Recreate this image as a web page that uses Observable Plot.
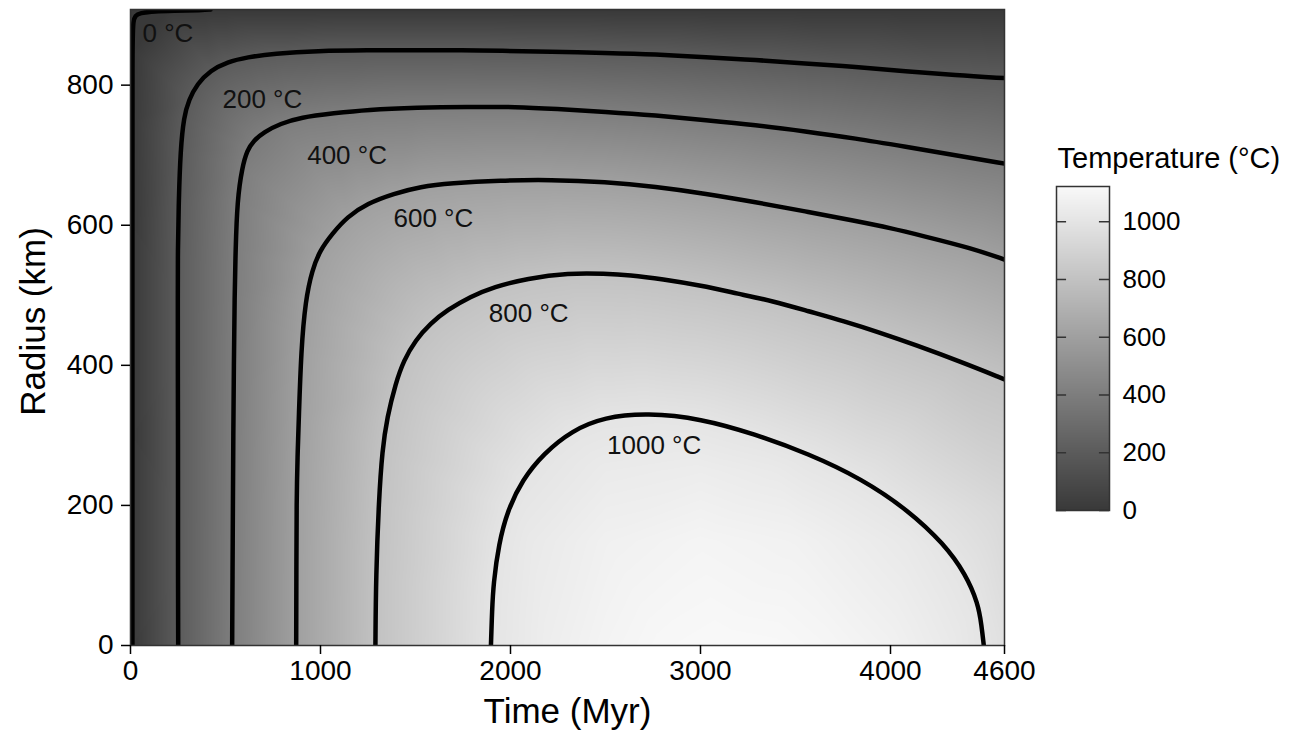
<!DOCTYPE html>
<html>
<head>
<meta charset="utf-8">
<script src="https://cdn.jsdelivr.net/npm/d3@7"></script>
<script src="https://cdn.jsdelivr.net/npm/@observablehq/plot@0.6"></script>
<style>
html, body { margin: 0; padding: 0; background: #fff; }
#wrap { position: relative; width: 1302px; height: 733px; overflow: hidden; }
#main { position: absolute; left: 0; top: 0; }
#legend { position: absolute; left: 1020px; top: 0; }
</style>
</head>
<body>
<div id="wrap"><div id="main"></div><div id="legend"></div></div>
<script>
// ---- tick labels ----
const xTicks = [0, 1000, 2000, 3000, 4000, 4600];
const yTicks = [0, 200, 400, 600, 800];
const colorTicks = [0, 200, 400, 600, 800, 1000];
const legendTitle = "Temperature (°C)";

// ---- isotherms: [time (Myr), radius (km)] ----
const iso0 = [[10,0],[10,300],[10,600],[10,850],[12,895],[35,904],[193,906],[384,907],[421,908]];
const iso200 = [[251,0],[250,100],[250,200],[250,300],[249,400],[249,500],[249,564],[254,636],[263,707],[281,755],[307,779],[351,802],[421,821],[509,833],[614,840],[754,845],[983,849],[1246,850],[1500,850],[1750,850],[1947,849],[2211,848],[2500,846],[2763,844],[3030,840],[3289,836],[3550,831],[3816,826],[4080,820],[4342,814],[4600,810]];
const iso400 = [[535,0],[537,100],[539,200],[541,300],[544,400],[548,500],[553,564],[562,636],[588,683],[614,707],[649,721],[702,733],[789,745],[895,754],[1070,760],[1246,765],[1509,768],[1772,769],[2035,769],[2237,766],[2500,762],[2763,757],[3030,750],[3289,743],[3550,734],[3816,724],[4080,712],[4342,700],[4600,688]];
const iso600 = [[872,0],[873,100],[874,207],[879,270],[886,326],[898,421],[921,493],[956,536],[997,564],[1062,588],[1141,612],[1246,631],[1386,645],[1526,655],[1684,660],[1947,664],[2211,665],[2500,662],[2763,655],[3030,645],[3289,633],[3550,620],[3816,606],[4000,596],[4167,585],[4430,567],[4600,551]];
const iso800 = [[1289,0],[1292,100],[1307,207],[1325,279],[1351,326],[1395,374],[1438,407],[1500,436],[1579,460],[1667,479],[1789,498],[1912,512],[2088,524],[2305,532],[2500,531],[2625,529],[2800,523],[3002,514],[3200,502],[3378,492],[3570,477],[3755,463],[3940,447],[4132,429],[4370,405],[4600,380]];
const iso1000 = [[1897,0],[1903,50],[1910,88],[1938,145],[1985,193],[2061,236],[2174,274],[2324,307],[2494,326],[2719,332],[3002,324],[3284,302],[3567,274],[3849,238],[4094,193],[4282,145],[4395,102],[4461,60],[4479,29],[4491,0]];
const isoLevels = [0, 200, 400, 600, 800, 1000];
const isoLines = [iso0, iso200, iso400, iso600, iso800, iso1000];

// ---- temperatures estimated from the shading: [time, radius, °C] ----
const coreSamples = [[2200,0,1055],[2500,0,1090],[2800,0,1112],[3100,0,1120],[3400,0,1116],[3700,0,1100],[4000,0,1075],[4300,0,1035],[4600,0,978],
  [2100,150,1029],[2500,150,1071],[3000,150,1093],[3500,150,1077],[4100,150,1025],
  [2500,250,1037],[3000,250,1048],[3400,250,1030],[4600,200,928]];
// cold boundary (start time and surface), °C
const edgeSamples = [[0,0,0],[0,150,0],[0,300,0],[0,450,0],[0,600,0],[0,750,0],[0,908,0],
  [500,908,0],[1000,908,0],[1500,908,0],[2000,908,0],[2500,908,0],[3000,908,0],[3500,908,0],[4000,908,0],[4500,908,0],[4600,908,0]];

// ---- isotherm labels: [time, radius, text] ----
const isoLabels = [[63,873,"0 °C"],[484,779,"200 °C"],[930,699,"400 °C"],[1384,609,"600 °C"],[1886,474,"800 °C"],[2508,286,"1000 °C"]];

// ---- build tables ----
const lineRows = isoLines.flatMap((pts, i) => pts.map(([t, r]) => ({t, r, level: isoLevels[i]})));
const fieldRows = [
  ...lineRows.map(d => ({t: d.t, r: d.r, T: d.level})),
  ...coreSamples.map(([t, r, T]) => ({t, r, T})),
  ...edgeSamples.map(([t, r, T]) => ({t, r, T}))
];
const labelRows = isoLabels.map(([t, r, text]) => ({t, r, text}));

const colorScale = {type: "linear", domain: [0, 1122], range: ["#393939", "#f9f9f9"], interpolate: "rgb", clamp: true};
const font = "'Liberation Sans', Arial, Helvetica, sans-serif";

const main = Plot.plot({
  width: 1302, height: 733,
  marginLeft: 130, marginRight: 298, marginTop: 9, marginBottom: 88,
  x: {domain: [0, 4600]},
  y: {domain: [0, 908]},
  color: colorScale,
  style: {fontFamily: font, fontSize: "28px", background: "transparent", color: "#000", overflow: "visible"},
  marks: [
    Plot.raster(fieldRows, {x: "t", y: "r", fill: "T", interpolate: "barycentric", x1: 0, x2: 4600, y1: 0, y2: 908, pixelSize: 1}),
    Plot.line(lineRows, {x: "t", y: "r", z: "level", stroke: "#000", strokeWidth: 4.5, curve: "basis", clip: "frame"}),
    Plot.text(labelRows, {x: "t", y: "r", text: "text", textAnchor: "start", lineAnchor: "middle", fontSize: 26, fill: "#111"}),
    Plot.frame({stroke: "#333", strokeWidth: 1.5}),
    Plot.axisX(xTicks, {tickSize: 9, tickPadding: 6, fontSize: 28, tickFormat: "d", label: null, strokeWidth: 1.5}),
    Plot.axisY(yTicks, {tickSize: 9, tickPadding: 8, fontSize: 28, tickFormat: "d", label: null, strokeWidth: 1.5}),
    Plot.text(["Time (Myr)"], {text: d => d, frameAnchor: "bottom", dy: 66, textAnchor: "middle", lineAnchor: "middle", fontSize: 35}),
    Plot.text(["Radius (km)"], {text: d => d, frameAnchor: "left", rotate: -90, dx: -97, dy: -6, textAnchor: "middle", lineAnchor: "middle", fontSize: 35})
  ]
});
document.getElementById("main").appendChild(main);

const legend = Plot.plot({
  width: 282, height: 733,
  marginLeft: 36, marginRight: 193, marginTop: 186, marginBottom: 223,
  x: {domain: [0, 1], axis: null},
  y: {domain: [0, 1122]},
  color: colorScale,
  style: {fontFamily: font, fontSize: "26px", background: "transparent", color: "#000", overflow: "visible"},
  marks: [
    Plot.raster({x1: 0, x2: 1, y1: 0, y2: 1122, fill: (x, y) => y, pixelSize: 1}),
    Plot.ruleY(colorTicks, {x1: 0, x2: 0.19, stroke: "#333", strokeWidth: 1.5}),
    Plot.ruleY(colorTicks, {x1: 0.81, x2: 1, stroke: "#333", strokeWidth: 1.5}),
    Plot.frame({stroke: "#333", strokeWidth: 1.5}),
    Plot.axisY(colorTicks, {anchor: "right", tickSize: 0, tickPadding: 13, fontSize: 26, tickFormat: "d", label: null}),
    Plot.text([legendTitle], {text: d => d, frameAnchor: "top-left", dx: 1, dy: -28, textAnchor: "start", lineAnchor: "middle", fontSize: 29})
  ]
});
document.getElementById("legend").appendChild(legend);
</script>
</body>
</html>
